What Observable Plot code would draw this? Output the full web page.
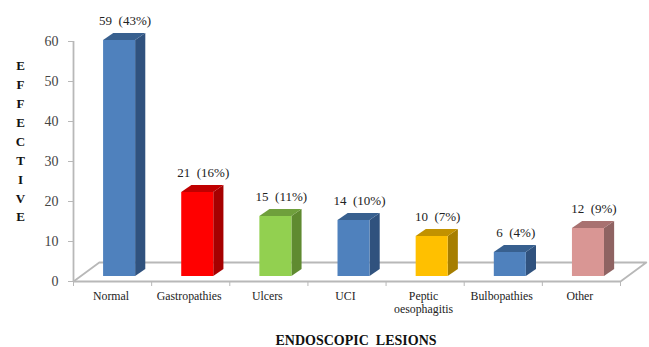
<!DOCTYPE html>
<html>
<head>
<meta charset="utf-8">
<script src="https://cdn.jsdelivr.net/npm/d3@7"></script>
<script src="https://cdn.jsdelivr.net/npm/@observablehq/plot@0.6"></script>
<style>
  html, body { margin: 0; padding: 0; background: #fff; }
  svg text { white-space: pre; }
</style>
</head>
<body>
<div id="chart"></div>
<script>
// Endoscopic lesions: counts and shares
const categories = ["Normal", "Gastropathies", "Ulcers", "UCI", "Peptic\noesophagitis", "Bulbopathies", "Other"];
const effectives = [59, 21, 15, 14, 10, 6, 12];
const shares = [43, 16, 11, 10, 7, 4, 9];

// Colours of each column: front, side and top faces
const frontColors = ["#4f81bd", "#ff0000", "#92d050", "#4f81bd", "#ffc000", "#4f81bd", "#d99694"];
const sideColors = ["#30527e", "#a60000", "#5f8a30", "#30527e", "#a67e00", "#30527e", "#8f6362"];
const topColors = ["#38608f", "#c00000", "#6f9f3c", "#38608f", "#c29200", "#38608f", "#a87170"];

// Pseudo-3D geometry, in scale units
const barOffset = 0.59;      // column centre inside its category slot
const barHalf = 0.205;       // half the column width
const depthX = 0.13;         // column depth, horizontal
const depthY = 1.75;         // column depth, vertical
const baseY = 1.25;          // column foot sits forward on the floor
const floorX = 0.33;         // floor depth, horizontal
const floorY = 4.75;         // floor depth, vertical

const bars = categories.map((name, i) => {
  const cx = i + barOffset;
  return {
    name, i,
    value: effectives[i],
    label: `${effectives[i]}  (${shares[i]}%)`,
    x1: cx - barHalf,
    x2: cx + barHalf,
    bottom: baseY,
    top: baseY + effectives[i],
    front: frontColors[i],
    side: sideColors[i],
    lid: topColors[i]
  };
});

const sideFaces = bars.flatMap(b => [
  {id: b.i, x: b.x2, y1: b.bottom, y2: b.top, fill: b.side},
  {id: b.i, x: b.x2 + depthX, y1: b.bottom + depthY, y2: b.top + depthY, fill: b.side}
]);
const topFaces = bars.flatMap(b => [
  {id: b.i, y: b.top, x1: b.x1, x2: b.x2, fill: b.lid},
  {id: b.i, y: b.top + depthY, x1: b.x1 + depthX, x2: b.x2 + depthX, fill: b.lid}
]);

const slots = categories.length;
const floorEdge = [
  {x: 0, y: 0},
  {x: floorX, y: floorY},
  {x: slots + floorX, y: floorY},
  {x: slots, y: 0}
];

const gray = "#b8b8b8";
const serif = "'Liberation Serif', 'Times New Roman', serif";

const chart = Plot.plot({
  width: 649,
  height: 347,
  marginLeft: 73,
  marginRight: 29,
  marginTop: 41,
  marginBottom: 66,
  style: {background: "#fff", fontFamily: serif, overflow: "visible"},
  x: {type: "linear", domain: [0, slots], axis: null},
  y: {type: "linear", domain: [0, 60], axis: null},
  color: {type: "identity"},
  marks: [
    // floor and axes
    Plot.line(floorEdge, {x: "x", y: "y", stroke: gray, strokeWidth: 1.8, curve: "linear"}),
    Plot.ruleY([0], {stroke: gray, strokeWidth: 1.8}),
    Plot.ruleX([0], {stroke: gray, strokeWidth: 1.8}),
    Plot.axisY({
      ticks: d3.range(0, 61, 10), tickSize: 5, tickPadding: 10, label: null,
      fontSize: 14, stroke: gray, color: "#444"
    }),
    Plot.axisX({
      ticks: d3.range(0, slots + 1), tickSize: 5, tickFormat: () => "", label: null,
      stroke: gray
    }),
    // columns
    Plot.areaY(sideFaces, {x: "x", y1: "y1", y2: "y2", z: "id", fill: "fill"}),
    Plot.areaX(topFaces, {y: "y", x1: "x1", x2: "x2", z: "id", fill: "fill"}),
    Plot.rect(bars, {x1: "x1", x2: "x2", y1: "bottom", y2: "top", fill: "front"}),
    // value labels
    Plot.text(bars, {
      x: d => d.i + barOffset + 0.07, y: "top", text: "label",
      dy: -20, fontSize: 13, fill: "#222", lineAnchor: "middle"
    }),
    // category labels
    Plot.text(bars, {
      x: d => d.i + 0.48, y: 0, text: "name",
      dy: 9, lineAnchor: "top", fontSize: 11.8, fill: "#222", lineHeight: 1.1
    }),
    // axis titles
    Plot.text(["ENDOSCOPIC  LESIONS"], {
      frameAnchor: "bottom", dy: 59, dx: 9, fontSize: 14, fontWeight: "bold", fill: "#111",
      lineAnchor: "middle"
    }),
    Plot.text(["E\nF\nF\nE\nC\nT\nI\nV\nE"], {
      frameAnchor: "left", textAnchor: "middle", dx: -53, dy: -22, fontSize: 13, fontWeight: "bold", fill: "#111",
      lineHeight: 1.46, lineAnchor: "middle"
    })
  ]
});

document.getElementById("chart").appendChild(chart);
</script>
</body>
</html>
